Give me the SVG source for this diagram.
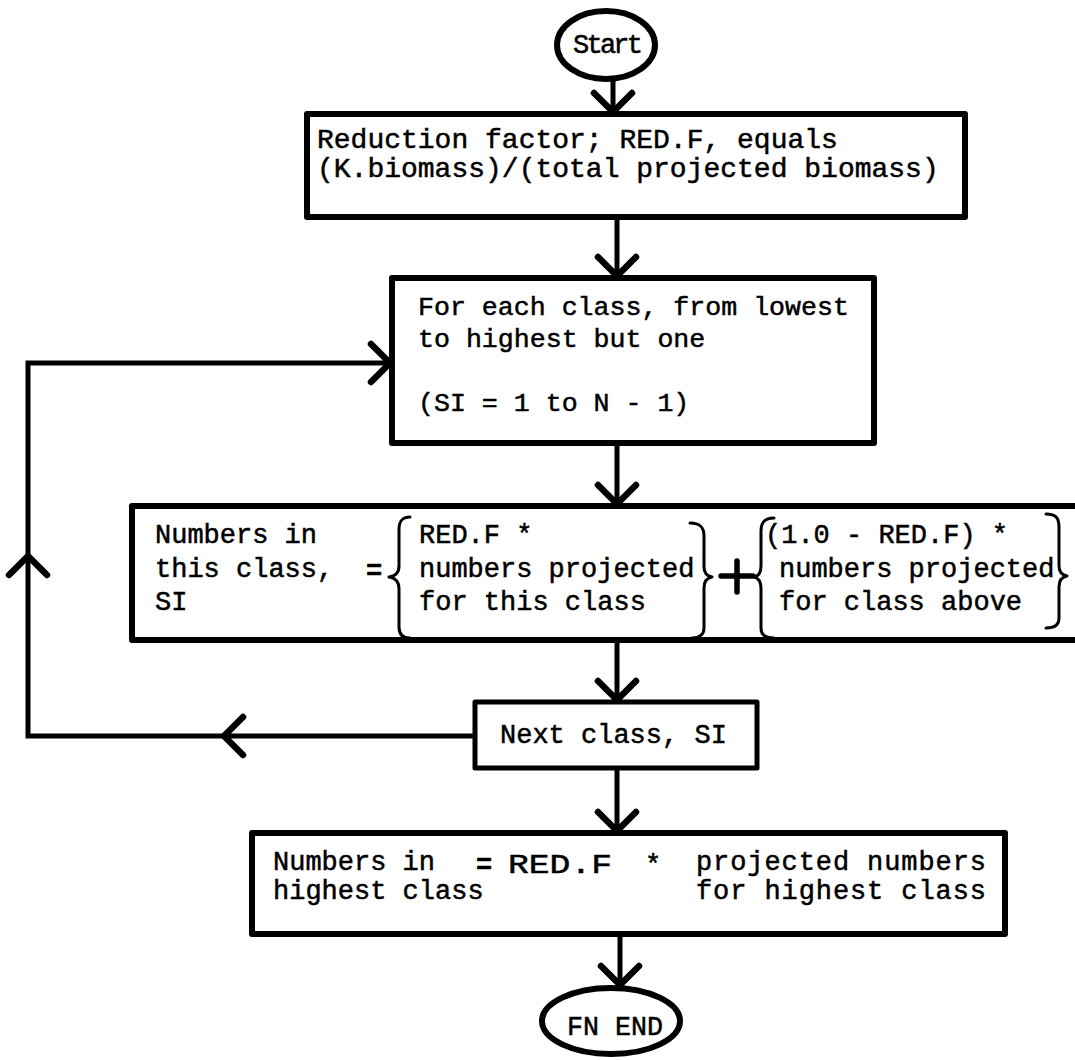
<svg xmlns="http://www.w3.org/2000/svg" width="1075" height="1060" viewBox="0 0 1075 1060">
<defs>
<style>
.box{fill:#fff;stroke:#000;stroke-width:6;stroke-linejoin:round}
.oval{fill:#fff;stroke:#000;stroke-width:6}
.t{font-family:"Liberation Mono","DejaVu Sans Mono",monospace;font-size:27px;fill:#000;stroke:#000;stroke-width:0.5}
.t1{font-size:28px}
.t2{font-size:26.6px}
.con{fill:none;stroke:#000;stroke-width:5;stroke-linejoin:miter}
.br{fill:none;stroke:#000;stroke-width:3;stroke-linecap:round;stroke-linejoin:round}
</style>
<marker id="chev" markerUnits="userSpaceOnUse" markerWidth="60" markerHeight="60" viewBox="-30 -30 60 60" refX="2" refY="0" orient="auto" overflow="visible">
<path d="M -19 -19 L 0 0 L -19 19" fill="none" stroke="#000" stroke-width="6.5" stroke-linecap="round"/>
</marker>
</defs>
<rect width="1075" height="1060" fill="#fff"/>

<g id="connectors">
<path class="con" d="M 613 80 L 613 114" marker-end="url(#chev)"/>
<path class="con" d="M 617 217 L 617 278" marker-end="url(#chev)"/>
<path class="con" d="M 617 443 L 617 506" marker-end="url(#chev)"/>
<path class="con" d="M 617 640 L 617 702" marker-end="url(#chev)"/>
<path class="con" d="M 617 768 L 617 833" marker-end="url(#chev)"/>
<path class="con" d="M 620 934 L 620 987" marker-end="url(#chev)"/>
<path class="con" d="M 475 736 L 222 736" marker-end="url(#chev)"/>
<path class="con" d="M 222 736 L 28 736 L 28 554" marker-end="url(#chev)"/>
<path class="con" d="M 28 554 L 28 363 L 392 363" marker-end="url(#chev)"/>
</g>

<g id="start">
<ellipse class="oval" cx="606" cy="45" rx="49" ry="34"/>
<text class="t" x="573" y="53" font-size="23" textLength="70" lengthAdjust="spacing">Start</text>
</g>

<g id="reduction">
<rect class="box" x="307" y="114" width="658" height="103"/>
<text class="t t1" x="317" y="148">Reduction factor; RED.F, equals</text>
<text class="t t1" x="317" y="177">(K.biomass)/(total projected biomass)</text>
</g>

<g id="loop">
<rect class="box" x="392" y="278" width="482" height="165"/>
<text class="t t2" x="418" y="315">For each class, from lowest</text>
<text class="t t2" x="418" y="347">to highest but one</text>
<text class="t t2" x="418" y="411">(SI = 1 to N - 1)</text>
</g>

<g id="compute">
<rect class="box" x="132" y="506" width="960" height="134"/>
<text class="t" x="155" y="543">Numbers in</text>
<text class="t" x="155" y="577">this class,</text>
<text class="t" x="155" y="610">SI</text>
<text class="t" x="366" y="579" font-weight="bold">=</text>
<path class="br" d="M 410 517 C 402 517 399 521 399 530 L 399 566 C 399 572 396 576 389 577 C 396 578 399 582 399 589 L 399 627 C 399 634 402 638 410 638"/>
<text class="t" x="419" y="543">RED.F *</text>
<text class="t" x="419" y="577">numbers projected</text>
<text class="t" x="419" y="610">for this class</text>
<path class="br" d="M 690 523 C 700 523 704 527 704 536 L 704 567 C 704 573 707 576 712 577 C 707 578 704 582 704 588 L 704 628 C 704 634 700 638 692 638"/>
<path d="M 721 576 L 753 576 M 737 561 L 737 592" stroke="#000" stroke-width="5.5" stroke-linecap="round"/>
<path class="br" d="M 774 518 C 765 518 761 522 761 531 L 761 566 C 761 572 759 576 754 577 C 759 578 761 582 761 589 L 761 628 C 761 634 765 638 774 638"/>
<text class="t" x="765" y="543">(1.0 - RED.F) *</text>
<text class="t" x="779" y="577">numbers projected</text>
<text class="t" x="779" y="610">for class above</text>
<path class="br" d="M 1046 514 C 1056 514 1059 518 1059 527 L 1059 566 C 1059 572 1062 575 1067 576 C 1062 577 1059 581 1059 587 L 1059 618 C 1059 624 1055 628 1046 628"/>
</g>

<g id="next">
<rect class="box" x="475" y="702" width="282" height="66" style="stroke-width:5"/>
<text class="t" x="500" y="743">Next class, SI</text>
</g>

<g id="highest">
<rect class="box" x="252" y="833" width="753" height="101"/>
<text class="t" x="273" y="870">Numbers in</text>
<text class="t" x="273" y="899">highest class</text>
<text class="t" x="476" y="873" font-weight="bold">=</text>
<text class="t" x="508" y="873" font-size="29" textLength="104" lengthAdjust="spacingAndGlyphs">RED.F</text>
<text class="t" x="645" y="873">*</text>
<text class="t" x="696" y="870" textLength="290" lengthAdjust="spacing">projected numbers</text>
<text class="t" x="696" y="899" textLength="290" lengthAdjust="spacing">for highest class</text>
</g>

<g id="end">
<ellipse class="oval" cx="611" cy="1021" rx="69" ry="33"/>
<text class="t" x="567" y="1035" textLength="96" lengthAdjust="spacingAndGlyphs">FN END</text>
</g>
</svg>
